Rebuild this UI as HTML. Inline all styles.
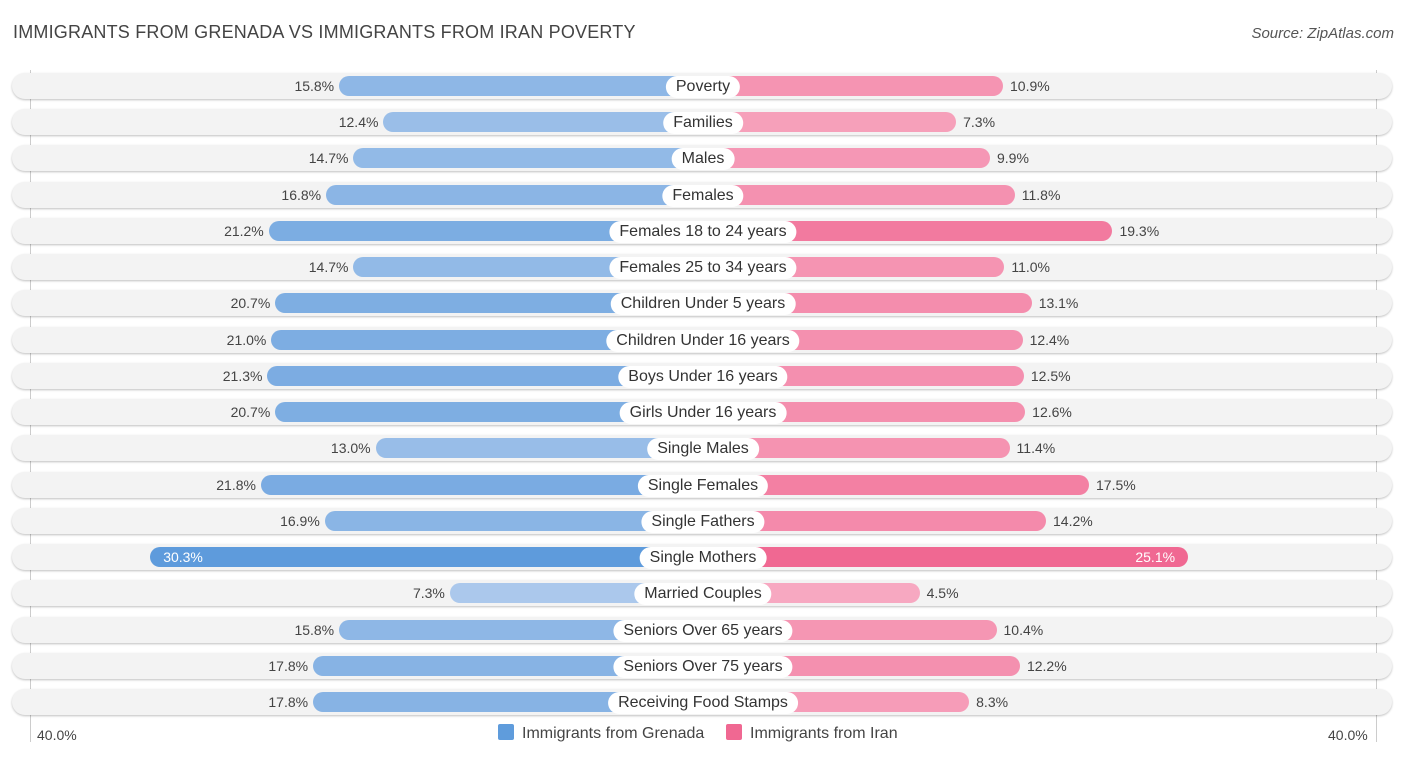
<!DOCTYPE html>
<html><head><meta charset="utf-8">
<style>
body{margin:0;width:1406px;height:758px;background:#fff;font-family:"Liberation Sans",sans-serif;position:relative;overflow:hidden}
.t{position:absolute;left:13px;top:22px;font-size:18px;color:#444;letter-spacing:0.2px}
.s{position:absolute;right:12px;top:25px;font-size:15px;color:#555;font-style:italic}
.row{position:absolute;left:12px;width:1380px;height:26px;border-radius:13px;background:#f3f3f3;box-shadow:0 1px 2px rgba(0,0,0,.25)}
.bar{position:absolute;height:20px;}
.lab{position:absolute;height:22px;line-height:22px;padding:0 10px;background:#fff;border-radius:11px;font-size:16px;color:#333;transform:translateX(-50%);white-space:nowrap}
.v{position:absolute;font-size:14px;color:#444;line-height:20px}
.ax{position:absolute;top:70px;height:672px;width:1px;background:#ccc}
.leg{position:absolute;top:724px;font-size:16px;color:#444;line-height:18px}
.sw{display:inline-block;width:16px;height:16px;border-radius:2px;vertical-align:-2px;margin-right:8px}
</style></head><body>
<div class="t">IMMIGRANTS FROM GRENADA VS IMMIGRANTS FROM IRAN POVERTY</div>
<div class="s">Source: ZipAtlas.com</div>
<div class="ax" style="left:30px"></div>
<div class="ax" style="left:1376px"></div>
<div id="chart"></div>
<div class="leg" style="left:37px;font-size:14px;top:726px">40.0%</div>
<div class="leg" style="left:1328px;font-size:14px;top:726px">40.0%</div>
<div class="leg" style="left:498px"><span class="sw" style="background:#5f9cdc"></span>Immigrants from Grenada</div>
<div class="leg" style="left:726px"><span class="sw" style="background:#f06892"></span>Immigrants from Iran</div>
<script>
const categories=["Poverty","Families","Males","Females","Females 18 to 24 years","Females 25 to 34 years","Children Under 5 years","Children Under 16 years","Boys Under 16 years","Girls Under 16 years","Single Males","Single Females","Single Fathers","Single Mothers","Married Couples","Seniors Over 65 years","Seniors Over 75 years","Receiving Food Stamps"];
const grenada=[15.8,12.4,14.7,16.8,21.2,14.7,20.7,21.0,21.3,20.7,13.0,21.8,16.9,30.3,7.3,15.8,17.8,17.8];
const iran=[10.9,7.3,9.9,11.8,19.3,11.0,13.1,12.4,12.5,12.6,11.4,17.5,14.2,25.1,4.5,10.4,12.2,8.3];
const cx=703, off=158, k=13.03, y0=86, dy=36.24;
function x(v){return off+k*v;}
function mix(a,b,t){return 'rgb('+a.map((c,i)=>Math.round(c+(b[i]-c)*t)).join(',')+')';}
const ch=document.getElementById('chart');
categories.forEach((c,i)=>{
  const y=y0+i*dy;
  const r=document.createElement('div');r.className='row';r.style.top=(y-13)+'px';
  
  
  ch.appendChild(r);
  const g=grenada[i], n=iran[i];
  const tg=Math.min(1,Math.max(0,(g-7)/23)), tn=Math.min(1,Math.max(0,(n-4)/21));
  const b=document.createElement('div');b.className='bar';
  b.style.left=(cx-x(g))+'px';b.style.width=x(g)+'px';b.style.top=(y-10)+'px';
  b.style.borderRadius='10px 0 0 10px';b.style.background=mix([172,201,236],[94,155,220],tg);
  
  
  ch.appendChild(b);
  const p=document.createElement('div');p.className='bar';
  p.style.left=cx+'px';p.style.width=x(n)+'px';p.style.top=(y-10)+'px';
  p.style.borderRadius='0 10px 10px 0';p.style.background=mix([247,170,194],[240,104,146],tn);
  
  
  ch.appendChild(p);
  const vg=document.createElement('div');vg.className='v';vg.textContent=g.toFixed(1)+'%';vg.style.top=(y-10)+'px';
  
  
  if(g>28){vg.style.left=(cx-x(g)+13)+'px';vg.style.color='#fff';}
  else{vg.style.right=(1406-(cx-x(g))+5)+'px';}
  ch.appendChild(vg);
  const vn=document.createElement('div');vn.className='v';vn.textContent=n.toFixed(1)+'%';vn.style.top=(y-10)+'px';
  
  
  if(n>23){vn.style.right=(1406-(cx+x(n))+13)+'px';vn.style.color='#fff';}
  else{vn.style.left=(cx+x(n)+7)+'px';}
  ch.appendChild(vn);
  const l=document.createElement('div');l.className='lab';l.textContent=c;l.style.left=cx+'px';l.style.top=(y-10)+'px';
  
  
  ch.appendChild(l);
});
</script>
</body></html>
